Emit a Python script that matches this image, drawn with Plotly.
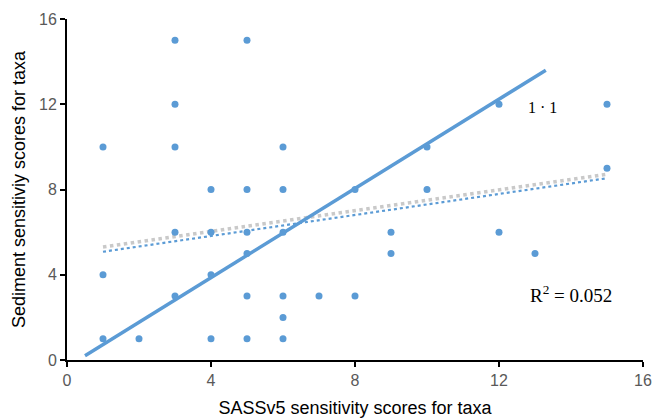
import plotly.graph_objects as go

# Data points (SASSv5 score, sediment score)
sass_x = [3, 5, 3, 1, 3, 6, 4, 5, 6, 8, 10, 10, 12, 15, 15,
          9, 9, 12, 13, 8,
          3, 4, 5, 6, 1, 4, 5, 3, 1, 2, 4, 5, 5, 6, 6, 6, 7]
sed_y = [15, 15, 12, 10, 10, 10, 8, 8, 8, 8, 10, 8, 12, 12, 9,
         6, 5, 6, 5, 3,
         6, 6, 6, 6, 4, 4, 5, 3, 1, 1, 1, 1, 3, 3, 2, 1, 3]

# 1:1 line endpoints (as drawn)
one_x = [0.5, 13.3]
one_y = [0.2, 13.6]

# Trend lines endpoints
trend_blue_x = [1, 15]
trend_blue_y = [5.08, 8.53]
trend_gray_x = [1, 15]
trend_gray_y = [5.3, 8.72]

ticks = [0, 4, 8, 12, 16]

blue = "#5b9bd5"

fig = go.Figure()
fig.add_trace(go.Scatter(x=trend_gray_x, y=trend_gray_y, mode="lines",
                         line=dict(color="#c9c9c9", width=3.5, dash="dot"),
                         hoverinfo="skip"))
fig.add_trace(go.Scatter(x=trend_blue_x, y=trend_blue_y, mode="lines",
                         line=dict(color=blue, width=2.2, dash="dot"),
                         hoverinfo="skip"))
fig.add_trace(go.Scatter(x=one_x, y=one_y, mode="lines",
                         line=dict(color=blue, width=3.5),
                         hoverinfo="skip"))
fig.add_trace(go.Scatter(x=sass_x, y=sed_y, mode="markers",
                         marker=dict(color=blue, size=7)))

fig.add_annotation(x=13.2, y=11.85, text="1 · 1", showarrow=False,
                   font=dict(family="Liberation Serif", size=16, color="black"),
                   xanchor="center", yanchor="middle")
fig.add_annotation(x=14.0, y=3.1, text="R<sup>2</sup> = 0.052", showarrow=False,
                   font=dict(family="Liberation Serif", size=19, color="black"),
                   xanchor="center", yanchor="middle")

axis_common = dict(
    range=[0, 16], tickvals=ticks, ticktext=[str(t) for t in ticks],
    showgrid=False, zeroline=False, showline=True, linecolor="black",
    linewidth=2, ticks="outside", ticklen=5, tickwidth=2, tickcolor="black",
    tickfont=dict(family="Liberation Sans", size=16, color="#595959"),
    automargin=False,
)
fig.update_xaxes(**axis_common,
                 title=dict(text="SASSv5 sensitivity scores for taxa",
                            font=dict(family="Liberation Sans", size=18, color="black"),
                            standoff=19))
fig.update_yaxes(**axis_common,
                 title=dict(text="Sediment sensitiviy scores for taxa",
                            font=dict(family="Liberation Sans", size=18, color="black"),
                            standoff=9))

fig.update_layout(
    width=654, height=418,
    margin=dict(l=67, r=11, t=19, b=58),
    plot_bgcolor="white", paper_bgcolor="white",
    showlegend=False,
)

fig.write_html("out.html",
               config={"displayModeBar": False},
               post_script="document.body.style.margin='0';document.body.style.overflow='hidden';")
